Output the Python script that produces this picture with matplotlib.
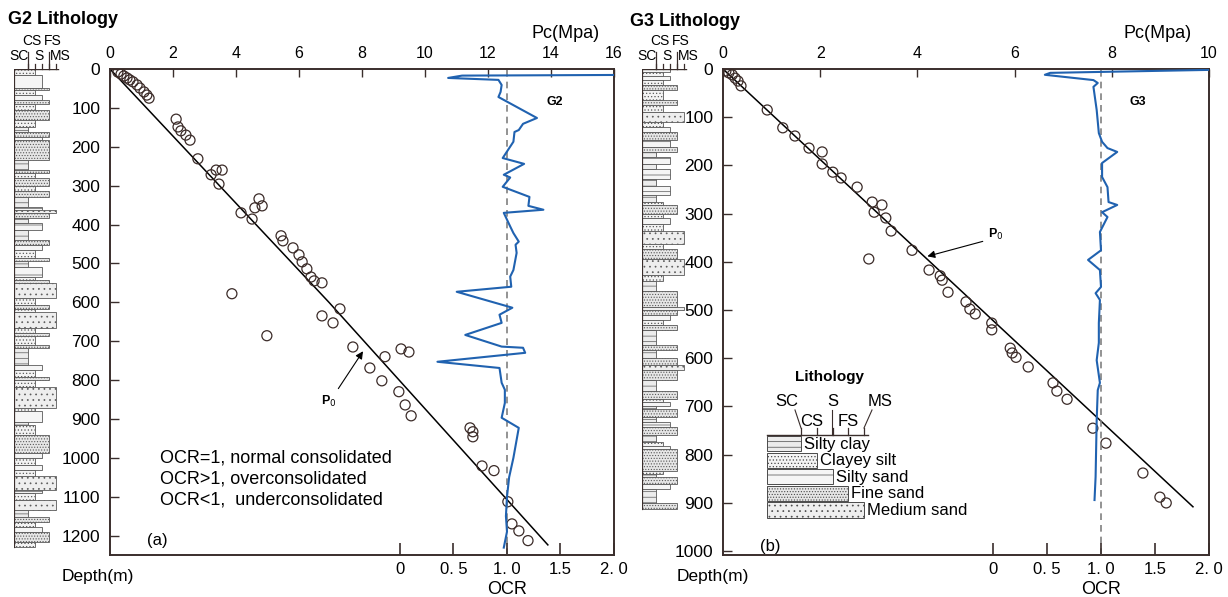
import matplotlib
matplotlib.use('Agg')
import matplotlib.pyplot as plt
from matplotlib.patches import Rectangle

plt.rcParams['font.family'] = ['Liberation Sans', 'DejaVu Sans']
plt.rcParams['hatch.linewidth'] = 0.5
plt.rcParams['hatch.color'] = '#808080'

# ---- data ----
# G2: preconsolidation pressure (MPa) vs depth (m)
g2_pc = [0.25, 0.35, 0.44, 0.54, 0.63, 0.73, 0.86, 0.95, 1.08, 1.17, 1.24,
         2.10, 2.16, 2.25, 2.41, 2.54, 2.79, 3.21, 3.37, 3.56, 3.46, 4.16, 4.51,
         4.73, 4.83, 4.60, 5.43, 5.49, 5.81, 6.00, 6.10, 6.25, 6.38, 6.48, 6.73,
         3.87, 6.73, 7.08, 7.30, 4.98, 7.71, 8.73, 9.24, 9.49, 8.25, 8.63, 9.17,
         9.37, 9.56, 11.43, 11.52, 11.52, 11.81, 12.19, 12.63, 12.76, 12.98, 13.27]
g2_depth = [8, 13, 18, 23, 28, 33, 41, 49, 59, 67, 75,
            129, 149, 159, 170, 183, 231, 272, 260, 260, 296, 370, 386,
            334, 352, 357, 429, 442, 460, 478, 496, 514, 535, 545, 550,
            578, 635, 653, 617, 686, 715, 740, 720, 728, 769, 802, 830,
            864, 892, 923, 933, 946, 1021, 1033, 1113, 1170, 1188, 1213]
g2_p0_pc = [0, 6.95, 13.9]
g2_p0_depth = [0, 600, 1224]
g2_ocr = [2.3, 0.58, 0.45, 0.92, 0.95, 0.94, 0.92, 1.28, 1.15, 1.11, 1.07, 1.06,
          1.01, 0.96, 1.16, 0.97, 1.03, 0.96, 1.21, 1.20, 1.34, 0.97, 1.03, 1.06,
          1.11, 1.08, 1.09, 1.06, 1.03, 1.04, 0.53, 1.05, 0.93, 0.95, 0.61, 0.95,
          1.15, 1.17, 0.35, 0.93, 0.95, 0.98, 0.98, 0.95, 1.11, 1.06, 1.02, 1.00,
          0.99, 1.00, 0.97]
g2_ocr_depth = [15, 17, 23, 28, 41, 59, 72, 126, 141, 157, 162, 187,
                208, 229, 244, 272, 279, 303, 329, 352, 362, 370, 405, 422,
                444, 452, 473, 517, 534, 560, 573, 614, 632, 653, 684, 714,
                717, 730, 753, 769, 807, 825, 859, 897, 923, 1000, 1050, 1100,
                1150, 1190, 1231]

# G3
g3_pc = [0.06, 0.12, 0.19, 0.25, 0.31, 0.37, 0.91, 1.23, 1.48, 1.77, 2.04, 2.04,
         2.26, 2.43, 2.76, 3.07, 3.27, 3.11, 3.35, 3.46, 3.00, 3.89, 4.24, 4.47,
         4.51, 4.63, 5.00, 5.08, 5.19, 5.53, 5.53, 5.91, 5.95, 6.03, 6.28, 6.79,
         6.87, 7.08, 7.61, 7.88, 8.64, 8.99, 9.12]
g3_depth = [4, 8, 12, 19, 25, 35, 85, 122, 139, 164, 172, 197,
            214, 226, 245, 276, 282, 297, 309, 336, 394, 376, 417, 429,
            438, 463, 483, 498, 508, 527, 541, 579, 589, 598, 618, 651,
            668, 685, 745, 776, 838, 888, 900]
g3_p0_pc = [0, 9.67]
g3_p0_depth = [0, 908]
g3_ocr = [2.3, 0.53, 0.48, 0.93, 0.97, 0.93, 0.96, 0.98, 1.01, 1.06, 1.15, 1.01,
          1.01, 1.06, 1.07, 1.15, 1.01, 1.06, 0.99, 1.00, 0.88, 0.99, 1.00, 0.95,
          0.99, 0.98, 0.98, 0.96, 0.99, 0.97, 0.96, 0.95, 0.94]
g3_ocr_depth = [0.6, 8, 12, 23, 29, 37, 85, 133, 151, 164, 172, 195,
                224, 245, 276, 282, 297, 307, 338, 376, 396, 417, 452, 465,
                479, 527, 568, 604, 651, 666, 728, 846, 894]

# lithology layers: top depth + class (0 SC, 1 CS, 2 S, 3 FS, 4 MS)
g2_lith_top = [0, 15, 48, 54, 67, 80, 90, 105, 131, 148, 161, 174, 183, 234, 260,
               268, 281, 302, 315, 328, 354, 362, 371, 384, 397, 414, 440, 452, 465,
               487, 495, 508, 534, 542, 550, 590, 606, 618, 624, 666, 680, 688, 710,
               718, 762, 774, 791, 799, 818, 872, 880, 907, 915, 941, 988, 1001, 1018,
               1031, 1048, 1083, 1091, 1108, 1134, 1151, 1164, 1177, 1190, 1216]
g2_lith_type = [1, 2, 3, 1, 2, 3, 1, 3, 1, 0, 3, 2, 3, 0, 3,
                1, 3, 1, 3, 0, 2, 4, 3, 0, 2, 0, 3, 2, 1,
                3, 0, 2, 1, 3, 4, 1, 3, 1, 4, 1, 3, 1, 3,
                0, 2, 1, 3, 1, 4, 1, 2, 0, 1, 3, 2, 1, 2,
                1, 4, 2, 1, 4, 0, 3, 1, 2, 3, 1]
g2_lith_bottom = 1229
g3_lith_top = [0, 7, 14, 23, 33, 44, 64, 75, 89, 110, 120, 130, 147, 161, 172, 182,
               196, 207, 228, 242, 262, 276, 283, 300, 310, 321, 335, 362, 373, 394,
               428, 439, 460, 493, 500, 510, 520, 531, 541, 573, 583, 600, 614, 625,
               646, 667, 684, 691, 698, 705, 722, 732, 743, 760, 774, 781, 788, 833,
               840, 847, 861, 872, 900]
g3_lith_type = [2, 1, 2, 1, 3, 1, 3, 1, 4, 1, 2, 3, 2, 3, 0, 2,
                0, 2, 0, 2, 0, 1, 3, 1, 2, 1, 4, 1, 3, 4,
                1, 0, 3, 4, 3, 2, 1, 3, 0, 3, 0, 3, 4, 3,
                0, 3, 1, 2, 0, 3, 0, 2, 3, 0, 1, 2, 3, 1,
                0, 3, 2, 0, 3]
g3_lith_bottom = 913

lith_names = ['Silty clay', 'Clayey silt', 'Silty sand', 'Fine sand', 'Medium sand']
lith_face = ['#ececec', '#f3f3f3', '#f5f5f5', '#e6e6e6', '#eeeeee']
lith_hatch = ['---', '.....', '-', '......', '...']

ocr_ticks = [0, 0.5, 1.0, 1.5, 2.0]
ocr_labels = ['0', '0. 5', '1. 0', '1.5', '2. 0']

W, H = 1228, 597
frame = '#3a2e2c'
blue = '#2062b0'

fig = plt.figure(figsize=(W / 100, H / 100), dpi=100)


def box(x0, y0, x1, y1):
    return [x0 / W, 1 - y1 / H, (x1 - x0) / W, (y1 - y0) / H]


def main_panel(rect, pcmax, dmax, ocrmin, pc, depth, p0_pc, p0_d, ocr, ocr_d):
    ax = fig.add_axes(rect)
    ax.set_xlim(0, pcmax)
    ax.set_ylim(dmax, 0)
    ax.set_yticks(range(0, int(dmax) + 1, 100))
    for s in ax.spines.values():
        s.set_color(frame)
        s.set_linewidth(1.4)
    ax.plot(p0_pc, p0_d, color='black', lw=1.1, zorder=2)
    ax.scatter(pc, depth, s=52, facecolors='none', edgecolors='#3b2b28',
               linewidths=0.9, zorder=3)

    ax2 = ax.twiny()
    ax2.set_xlim(ocrmin, 2.0)
    ax2.xaxis.tick_bottom()
    ax2.set_xticks(ocr_ticks)
    ax2.set_xticklabels(ocr_labels)
    ax2.tick_params(axis='x', direction='in', length=8.5, width=1.2, pad=5,
                    labelsize=12, colors=frame, labelcolor='black')
    for s in ax2.spines.values():
        s.set_visible(False)
    ax2.axvline(1.0, color='#808080', ls=(0, (4, 3)), lw=1.2, zorder=1)
    ax2.plot(ocr, ocr_d, color=blue, lw=1.5, zorder=4)

    # twiny() moves the host ticks to the bottom, put them back on top
    ax.xaxis.tick_top()
    ax.set_xticks(range(0, pcmax + 1, 2))
    ax.tick_params(axis='x', direction='in', length=6, width=1, pad=6,
                   labelsize=11.5, colors=frame, labelcolor='black')
    ax.tick_params(axis='y', direction='in', length=6.5, width=1, pad=7,
                   labelsize=12.5, colors=frame, labelcolor='black')
    return ax, ax2


def column(rect, dmax, tops, types, bottom):
    ax = fig.add_axes(rect)
    ax.set_xlim(0, 48)
    ax.set_ylim(dmax, 0)
    ax.axis('off')
    bots = tops[1:] + [bottom]
    for t, b, k in zip(tops, bots, types):
        ax.add_patch(Rectangle((0, t), 14 + 7 * k, b - t, facecolor=lith_face[k],
                               hatch=lith_hatch[k], edgecolor='#5a5a5a', lw=0.6))
    ax.plot([0, 0], [0, bottom], color=frame, lw=1.6)
    ax.plot([0, 44], [0, 0], color=frame, lw=1.0)
    return ax


axA, ocrA = main_panel(box(110, 69, 614, 555), 16, 1250, -2.71,
                       g2_pc, g2_depth, g2_p0_pc, g2_p0_depth, g2_ocr, g2_ocr_depth)
axB, ocrB = main_panel(box(723, 69, 1209, 555), 10, 1008, -2.5,
                       g3_pc, g3_depth, g3_p0_pc, g3_p0_depth, g3_ocr, g3_ocr_depth)

column(box(14, 69, 62, 555), 1250, g2_lith_top, g2_lith_type, g2_lith_bottom)
column(box(642, 69, 690, 555), 1008, g3_lith_top, g3_lith_type, g3_lith_bottom)

# P0 arrows
axA.annotate('', xy=(8.08, 720), xytext=(7.2, 828),
             arrowprops=dict(arrowstyle='-|>', color='black', lw=0.8, mutation_scale=11))
axA.text(6.95, 855, 'P$_0$', fontsize=9, fontweight='bold', ha='center', va='center')
axB.annotate('', xy=(4.15, 390), xytext=(5.4, 356),
             arrowprops=dict(arrowstyle='-|>', color='black', lw=0.8, mutation_scale=11))
axB.text(5.62, 343, 'P$_0$', fontsize=9, fontweight='bold', ha='center', va='center')

# overlay in pixel coordinates for labels
ov = fig.add_axes([0, 0, 1, 1], zorder=10)
ov.set_xlim(0, W)
ov.set_ylim(H, 0)
ov.axis('off')

ov.text(8, 20, 'G2 Lithology', fontsize=13, fontweight='bold', va='center', ha='left')
ov.text(630, 22, 'G3 Lithology', fontsize=13, fontweight='bold', va='center', ha='left')
ov.text(566, 34, 'Pc(Mpa)', fontsize=13, ha='center', va='center')
ov.text(1158, 34, 'Pc(Mpa)', fontsize=13, ha='center', va='center')
ov.text(62, 577, 'Depth(m)', fontsize=12.5, ha='left', va='center')
ov.text(677, 577, 'Depth(m)', fontsize=12.5, ha='left', va='center')
ov.text(507, 590, 'OCR', fontsize=13, ha='center', va='center')
ov.text(1101, 590, 'OCR', fontsize=13, ha='center', va='center')
ov.text(147, 540, '(a)', fontsize=12, ha='left', va='center')
ov.text(760, 546, '(b)', fontsize=12, ha='left', va='center')
ov.text(555, 102, 'G2', fontsize=9, fontweight='bold', ha='center', va='center')
ov.text(1138, 102, 'G3', fontsize=9, fontweight='bold', ha='center', va='center')
for i, s in enumerate(['OCR=1, normal consolidated', 'OCR>1, overconsolidated',
                       'OCR<1,  underconsolidated']):
    ov.text(160, 458 + 21 * i, s, fontsize=13, ha='left', va='center')

# grain-size scale above columns
for x0, y0 in [(14, 69), (642, 69)]:
    for k in range(5):
        ov.plot([x0 + 14 + 7 * k] * 2, [y0 - 5, y0], color=frame, lw=0.9)
    ov.plot([x0 + 14] * 2, [y0 - 17, y0], color=frame, lw=0.9)
    ov.plot([x0 + 35] * 2, [y0 - 17, y0], color=frame, lw=0.9)
    ov.text(x0 + 5, y0 - 13, 'SC', fontsize=10, ha='center', va='center')
    ov.text(x0 + 25, y0 - 13, 'S', fontsize=10, ha='center', va='center')
    ov.text(x0 + 46, y0 - 13, 'MS', fontsize=10, ha='center', va='center')
    ov.text(x0 + 18, y0 - 28, 'CS', fontsize=10, ha='center', va='center')
    ov.text(x0 + 39, y0 - 28, 'FS', fontsize=10, ha='center', va='center')

# lithology legend in panel b
lx, ly, rh = 767, 436, 16.6
ov.text(830, 377, 'Lithology', fontsize=11, fontweight='bold', ha='center', va='center')
ov.plot([lx, 868], [ly - 1, ly - 1], color=frame, lw=1.0)
for k in range(5):
    right = 801 + 15.8 * k
    ov.plot([right, right], [ly - 8, ly - 1], color=frame, lw=0.9)
    ov.add_patch(Rectangle((lx, ly + rh * k), right - lx, rh - 1.5,
                           facecolor=lith_face[k], hatch=lith_hatch[k],
                           edgecolor='#4a4a4a', lw=0.7))
    ov.text(right + 3, ly + rh * k + 8, lith_names[k], fontsize=12,
            ha='left', va='center')
ov.plot([795, 801], [410, 428], color=frame, lw=0.8)
ov.plot([832, 832], [410, 435], color=frame, lw=0.8)
ov.plot([872, 864], [410, 428], color=frame, lw=0.8)
ov.text(787, 402, 'SC', fontsize=12, ha='center', va='center')
ov.text(833, 401, 'S', fontsize=12, ha='center', va='center')
ov.text(880, 402, 'MS', fontsize=12, ha='center', va='center')
ov.text(812, 421, 'CS', fontsize=12, ha='center', va='center')
ov.text(848, 421, 'FS', fontsize=12, ha='center', va='center')

fig.savefig('out.png', dpi=100)
